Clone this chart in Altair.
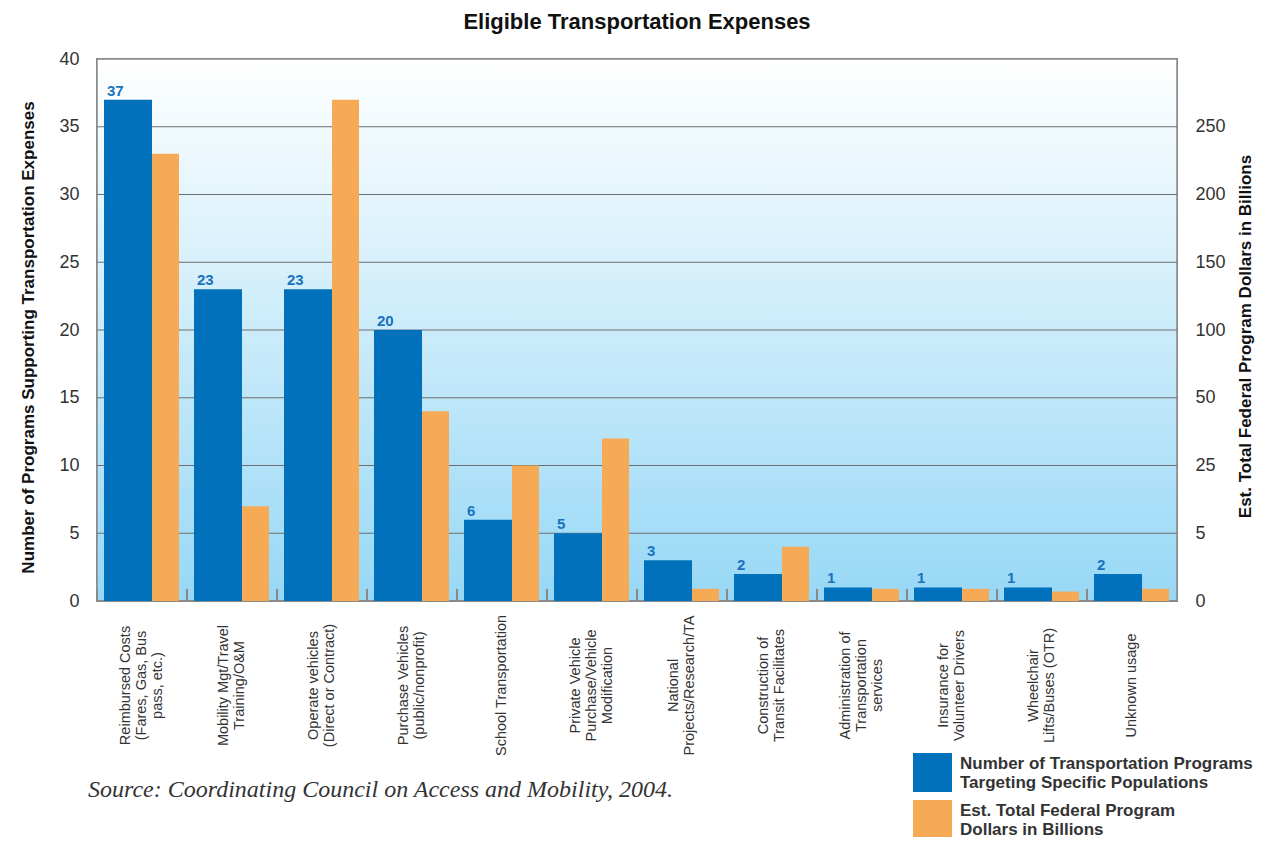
import altair as alt
import pandas as pd

categories = [
    "Reimbursed Costs|(Fares, Gas, Bus|pass, etc.)",
    "Mobility Mgt/Travel|Training/O&M",
    "Operate vehicles|(Direct or Contract)",
    "Purchase Vehicles|(public/nonprofit)",
    "School Transportation",
    "Private Vehicle|Purchase/Vehicle|Modification",
    "National|Projects/Research/TA",
    "Construction of|Transit Facilitates",
    "Administration of|Transportation|services",
    "Insurance for|Volunteer Drivers",
    "Wheelchair|Lifts/Buses (OTR)",
    "Unknown usage",
]
programs = [37, 23, 23, 20, 6, 5, 3, 2, 1, 1, 1, 2]
dollars = [230, 13, 270, 45, 25, 35, 0.9, 4, 0.9, 0.9, 0.7, 0.9]

left_ticks = [0, 5, 10, 15, 20, 25, 30, 35, 40]
grid_values = [5, 10, 15, 20, 25, 30, 35]
right_ticks = [0, 5, 25, 50, 100, 150, 200, 250]
right_domain = [0, 5, 25, 50, 100, 150, 200, 250, 300]

series_names = [
    "Number of Transportation Programs|Targeting Specific Populations",
    "Est. Total Federal Program|Dollars in Billions",
]
source_text = "Source: Coordinating Council on Access and Mobility, 2004."

W, H = 1080, 542
BLUE = "#0071ba"
ORANGE = "#f7aa55"
FONT = "Liberation Sans"
XLH = 16  # x label line height

df_blue = pd.DataFrame({"cat": categories, "value": programs, "series": series_names[0]})
df_orange = pd.DataFrame({"cat": categories, "value": dollars, "series": series_names[1]})
df_grid = pd.DataFrame({"v": grid_values})
df_source = pd.DataFrame({"t": [source_text]})

xenc = alt.X(
    "cat:N",
    sort=categories,
    scale=alt.Scale(paddingInner=0, paddingOuter=0),
    axis=alt.Axis(
        title=None,
        labelExpr="split(datum.label, '|')",
        labelAngle=270,
        labelAlign="center",
        labelBaseline="middle",
        labelPadding=84,
        labelOffset={"expr": f"-(length(split(datum.label, '|')) - 1) * {XLH / 2}"},
        labelFontSize=14.5,
        labelLineHeight=XLH,
        labelColor="#333333",
        labelFont=FONT,
        labelOverlap=False,
        labelLimit=0,
        ticks=False,
        domain=False,
    ),
)

color_scale = alt.Scale(domain=series_names, range=[BLUE, ORANGE])

left_scale = alt.Scale(domain=[0, 40], nice=False, zero=True)

bg = alt.Chart(df_grid).mark_rect(
    fill=alt.Gradient(
        gradient="linear",
        x1=0, y1=0, x2=0, y2=1,
        stops=[
            alt.GradientStop(offset=0, color="#ffffff"),
            alt.GradientStop(offset=1, color="#97d8f6"),
        ],
    ),
    stroke="#8a8a8a",
    strokeWidth=1.5,
).encode(
    x=alt.value(0), x2=alt.value(W), y=alt.value(0), y2=alt.value(H)
)

grid = alt.Chart(df_grid).mark_rule(color="#6e6e6e", strokeWidth=1.2).encode(
    y=alt.Y("v:Q", scale=left_scale),
    x=alt.value(0),
    x2=alt.value(W),
)

baseline = alt.Chart(df_grid).mark_rule(color="#8a8a8a", strokeWidth=2).encode(
    x=alt.value(0), x2=alt.value(W), y=alt.value(H)
)

blue = alt.Chart(df_blue).mark_bar(width=48, xOffset=-14).encode(
    x=xenc,
    y=alt.Y(
        "value:Q",
        scale=left_scale,
        axis=alt.Axis(
            title="Number of Programs Supporting Transportation Expenses",
            values=left_ticks,
            grid=False,
            ticks=False,
            domain=False,
            labelFontSize=18,
            labelColor="#333333",
            labelFont=FONT,
            labelPadding=18,
            titleFont=FONT,
            titleFontSize=17,
            titleFontWeight="bold",
            titleColor="#111111",
            titleAngle=270,
            titleAlign="center",
            titleBaseline="middle",
            titleX=-69,
            titleY=278,
        ),
    ),
    color=alt.Color(
        "series:N",
        scale=color_scale,
        legend=alt.Legend(
            title=None,
            orient="none",
            legendX=816,
            legendY=694,
            symbolType="square",
            symbolSize=1521,
            symbolStrokeWidth=0,
            symbolOpacity=1,
            labelExpr="split(datum.label, '|')",
            labelFont=FONT,
            labelFontSize=17,
            labelFontWeight="bold",
            labelColor="#333333",
            labelBaseline="bottom",
            labelOffset=8,
            labelLimit=0,
            rowPadding=8,
            padding=0,
        ),
    ),
)

labels = alt.Chart(df_blue).mark_text(
    align="left", baseline="alphabetic", dx=-35, dy=-4,
    font=FONT, fontSize=15, fontWeight="bold", color="#1a73bd",
).encode(
    x=alt.X("cat:N", sort=categories),
    y=alt.Y("value:Q", scale=left_scale),
    text=alt.Text("value:Q"),
)

ticks = alt.Chart(df_blue).mark_rule(color="#8a8a8a", strokeWidth=2).encode(
    x=alt.X("cat:N", sort=categories, bandPosition=0),
    y=alt.value(H - 12),
    y2=alt.value(H),
)

source = alt.Chart(df_source).mark_text(
    align="left", baseline="middle", font="Liberation Serif",
    fontStyle="italic", fontSize=24, color="#333333",
).encode(text="t:N", x=alt.value(-9), y=alt.value(731))

left_group = alt.layer(bg, grid, baseline, blue, labels, ticks, source)

orange = alt.Chart(df_orange).mark_bar(width=27, xOffset=23.5).encode(
    x=alt.X("cat:N", sort=categories),
    y=alt.Y(
        "value:Q",
        scale=alt.Scale(
            domain=right_domain,
            range=[H - H * i / 8 for i in range(9)],
            nice=False,
            zero=False,
        ),
        axis=alt.Axis(
            orient="right",
            title="Est. Total Federal Program Dollars in Billions",
            values=right_ticks,
            grid=False,
            ticks=False,
            domain=False,
            labelFontSize=18,
            labelColor="#333333",
            labelFont=FONT,
            labelPadding=18,
            titleFont=FONT,
            titleFontSize=17,
            titleFontWeight="bold",
            titleColor="#111111",
            titleAngle=270,
            titleAlign="center",
            titleBaseline="middle",
            titleX=68,
            titleY=277,
        ),
    ),
    color=alt.Color("series:N", scale=color_scale),
)

chart = alt.layer(left_group, orange).resolve_scale(y="independent").properties(
    width=W,
    height=H,
    title=alt.TitleParams(
        "Eligible Transportation Expenses",
        font=FONT,
        fontSize=22,
        fontWeight="bold",
        color="#111111",
        anchor="middle",
        offset=16,
    ),
    autosize=alt.AutoSizeParams(type="none"),
    padding={"left": 89, "top": 51, "right": 80, "bottom": 236},
).configure_view(stroke=None)

chart.save("out.html", embed_options={"renderer": "svg", "actions": False})
